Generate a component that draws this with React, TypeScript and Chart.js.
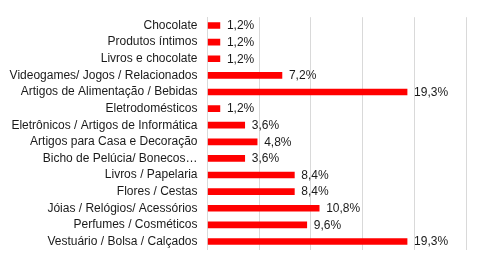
import React, { useEffect, useRef } from "react";
import { Chart, registerables } from "chart.js";

Chart.register(...registerables);

const categories = [
  "Chocolate",
  "Produtos íntimos",
  "Livros e chocolate",
  "Videogames/ Jogos / Relacionados",
  "Artigos de Alimentação / Bebidas",
  "Eletrodomésticos",
  "Eletrônicos / Artigos de Informática",
  "Artigos para Casa e Decoração",
  "Bicho de Pelúcia/ Bonecos…",
  "Livros / Papelaria",
  "Flores / Cestas",
  "Jóias / Relógios/ Acessórios",
  "Perfumes / Cosméticos",
  "Vestuário / Bolsa / Calçados",
];

const values = [1.2, 1.2, 1.2, 7.2, 19.3, 1.2, 3.6, 4.8, 3.6, 8.4, 8.4, 10.8, 9.6, 19.3];

const FONT = "'Liberation Sans', Arial, sans-serif";

const labelPlugin = {
  id: "valueLabels",
  afterDatasetsDraw(chart: any) {
    const ctx = chart.ctx;
    const meta = chart.getDatasetMeta(0);
    ctx.save();
    ctx.font = `12px ${FONT}`;
    ctx.fillStyle = "#1a1a1a";
    ctx.textAlign = "left";
    ctx.textBaseline = "middle";
    meta.data.forEach((bar: any, i: number) => {
      const v = values[i];
      const txt = v.toFixed(1).replace(".", ",") + "%";
      ctx.fillText(txt, bar.x + 7, bar.y + 0.5);
    });
    ctx.restore();
  },
};

export default function App() {
  const ref = useRef<HTMLCanvasElement>(null);
  useEffect(() => {
    if (!ref.current) return;
    const chart = new Chart(ref.current, {
      type: "bar",
      data: {
        labels: categories,
        datasets: [
          {
            data: values,
            backgroundColor: "#ff0000",
            borderWidth: 0,
            barThickness: 6,
          },
        ],
      },
      options: {
        indexAxis: "y",
        animation: false,
        responsive: false,
        maintainAspectRatio: false,
        layout: { padding: { top: 15, bottom: 15, right: 14, left: 0 } },
        plugins: {
          legend: { display: false },
          tooltip: { enabled: false },
        },
        scales: {
          x: {
            min: 0,
            max: 25,
            ticks: { display: false, stepSize: 5 },
            grid: { color: "#d9d9d9", drawTicks: false, lineWidth: 1 },
            border: { display: false },
          },
          y: {
            afterFit: (scale: any) => {
              scale.width = 207.5;
            },
            ticks: {
              padding: 10,
              color: "#1a1a1a",
              font: { family: FONT, size: 12 },
              autoSkip: false,
            },
            grid: { display: false, drawTicks: false },
            border: { display: true, color: "#d9d9d9", width: 1 },
          },
        },
      },
      plugins: [labelPlugin],
    });
    return () => chart.destroy();
  }, []);
  return (
    <div style={{ position: "fixed", left: 0, top: 0, width: 480, height: 267, background: "#fff" }}>
      <canvas ref={ref} width={480} height={267} style={{ width: 480, height: 267 }} />
    </div>
  );
}
